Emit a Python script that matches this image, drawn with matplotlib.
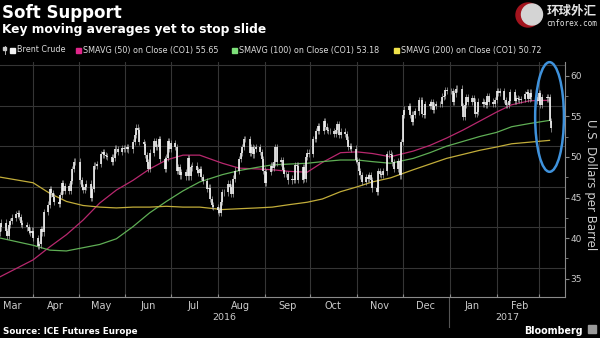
import pandas as pd
import matplotlib
matplotlib.use("Agg")
import matplotlib.pyplot as plt
from matplotlib.patches import Ellipse, Rectangle, Circle
from matplotlib.transforms import IdentityTransform

plt.rcParams["font.family"] = ["DejaVu Sans", "Noto Sans CJK SC"]

# Brent daily closes, one list per month (weekdays from 2016-03-10)
close_mar16 = [40.0, 40.6, 39.5, 39.0, 40.3, 40.8, 41.2, 41.6, 41.8, 41.3, 40.5, 40.3, 40.0, 39.6, 39.3, 39.6]
close_apr16 = [38.7, 37.7, 37.9, 39.8, 39.4, 41.9, 42.8, 44.7, 44.2, 43.8, 43.1, 42.9, 44.0, 45.5, 44.5,
               45.1, 44.5, 45.7, 47.2, 48.1, 48.1]
close_may16 = [45.8, 45.0, 44.6, 45.0, 45.4, 43.6, 44.7, 47.6, 47.6, 47.8, 49.0, 49.3, 48.9, 48.8, 48.7,
               48.1, 48.6, 49.7, 49.6, 49.3, 49.8, 49.7]
close_jun16 = [49.7, 49.9, 49.6, 50.5, 51.4, 52.3, 52.0, 50.5, 50.3, 48.9, 48.0, 47.2, 49.2, 50.6, 49.9,
               49.9, 50.9, 48.4, 47.2, 48.6, 50.6, 49.7]
close_jul16 = [50.4, 49.9, 47.0, 47.4, 46.4, 46.8, 46.3, 48.5, 46.3, 47.4, 47.6, 47.1, 46.7, 47.2, 46.2,
               45.7, 44.7, 44.9, 43.5, 42.7, 42.5]
close_aug16 = [42.1, 41.8, 43.1, 44.3, 44.3, 45.4, 45.0, 44.1, 46.0, 47.0, 48.4, 49.2, 49.9, 50.9, 50.9,
               49.2, 49.9, 49.0, 49.7, 49.9, 49.3, 48.4, 47.0]
close_sep16 = [45.5, 46.8, 47.6, 47.3, 48.0, 49.9, 48.0, 48.3, 47.1, 46.6, 46.6, 45.8, 46.0, 45.9, 47.7,
               47.6, 45.9, 47.4, 46.0, 48.7, 49.2, 49.1]
close_oct16 = [50.9, 50.9, 51.9, 52.5, 51.9, 53.1, 52.4, 52.0, 51.9, 51.9, 51.5, 52.0, 52.7, 51.4, 51.8,
               51.5, 50.8, 49.9, 50.0, 49.7, 48.3]
close_nov16 = [48.1, 46.9, 46.4, 45.6, 46.2, 46.0, 46.4, 45.8, 44.8, 44.4, 46.9, 46.6, 46.5, 46.9, 49.0,
               49.1, 48.9, 48.0, 47.2, 48.2, 46.4, 50.5]
close_dec16 = [53.9, 54.5, 54.9, 53.9, 53.0, 53.9, 54.3, 55.7, 55.7, 54.0, 53.9, 55.2, 55.0, 55.4, 54.5,
               55.0, 55.2, 55.2, 56.1, 56.2, 56.9, 56.8]
close_jan17 = [56.8, 55.5, 56.5, 57.1, 57.1, 54.9, 53.6, 55.1, 56.0, 55.5, 55.9, 55.5, 54.0, 54.2, 55.5,
               55.2, 55.4, 55.1, 56.2, 55.5, 55.2, 55.7]
close_feb17 = [56.8, 56.6, 56.8, 55.7, 55.1, 55.1, 55.6, 56.7, 55.6, 55.9, 55.8, 55.7, 55.8, 56.4, 56.7,
               55.8, 56.6, 56.0, 56.0, 55.6]
close_mar17 = [56.5, 55.1, 56.0, 55.9, 56.0, 53.1, 52.2]
first_open = 39.4

# moving averages at sample dates
sma_dates = ["2016-03-10", "2016-04-01", "2016-04-12", "2016-04-23", "2016-05-04", "2016-05-15",
             "2016-05-26", "2016-06-06", "2016-06-17", "2016-06-28", "2016-07-09", "2016-07-20",
             "2016-08-04", "2016-08-15", "2016-08-27", "2016-09-06", "2016-09-17", "2016-09-29",
             "2016-10-09", "2016-10-21", "2016-11-01", "2016-11-11", "2016-11-23", "2016-12-08",
             "2016-12-19", "2016-12-30", "2017-01-10", "2017-01-21", "2017-02-01", "2017-02-11",
             "2017-02-23", "2017-03-08"]
sma50 = [33.9, 36.0, 37.6, 39.1, 40.9, 43.0, 44.6, 45.8, 47.2, 48.3, 48.9, 48.9, 47.9, 47.3, 47.2, 47.1,
         46.9, 46.8, 48.0, 49.2, 49.3, 49.1, 48.7, 49.4, 50.1, 51.0, 52.0, 53.1, 54.2, 55.1, 55.6, 55.65]
sma100 = [38.7, 37.8, 37.2, 37.1, 37.5, 37.9, 38.6, 40.1, 41.8, 43.2, 44.5, 45.6, 46.5, 47.0, 47.4, 47.7,
          47.8, 47.9, 48.1, 48.3, 48.3, 48.1, 47.9, 48.5, 49.2, 50.0, 50.6, 51.2, 51.7, 52.4, 52.8, 53.18]
sma200 = [46.2, 45.5, 44.2, 43.2, 42.7, 42.5, 42.4, 42.5, 42.5, 42.6, 42.5, 42.5, 42.2, 42.3, 42.4, 42.5,
          42.8, 43.1, 43.5, 44.4, 45.0, 45.6, 46.1, 47.1, 47.8, 48.5, 49.0, 49.5, 49.9, 50.3, 50.5, 50.72]

months = ["Mar", "Apr", "May", "Jun", "Jul", "Aug", "Sep", "Oct", "Nov", "Dec", "Jan", "Feb"]
month_label_dates = ["2016-03-18", "2016-04-16", "2016-05-16", "2016-06-16", "2016-07-16", "2016-08-16",
                     "2016-09-16", "2016-10-16", "2016-11-16", "2016-12-16", "2017-01-16", "2017-02-16"]
yticks = [35, 40, 45, 50, 55, 60]

closes = (close_mar16 + close_apr16 + close_may16 + close_jun16 + close_jul16 + close_aug16 + close_sep16
          + close_oct16 + close_nov16 + close_dec16 + close_jan17 + close_feb17 + close_mar17)
opens = [first_open] + closes[:-1]
dates = pd.bdate_range("2016-03-10", periods=len(closes))
body_lo = [min(o, c) for o, c in zip(opens, closes)]
body_hi = [max(o, c) for o, c in zip(opens, closes)]
wick_pad = 0.4  # drawing only: thin wick past each body

W, H = 600, 338
fig = plt.figure(figsize=(6, 3.38), dpi=100, facecolor="black")


def fx(x):
    return x / W


def fy(y):
    return 1 - y / H


ax = fig.add_axes([0, fy(297), fx(565), (297 - 62) / H])
ax.set_facecolor("black")
ax.set_xlim(pd.Timestamp("2016-03-10 04:00"), pd.Timestamp("2017-03-18 05:00"))
ylo, yhi = 31.43, 60.37
ax.set_ylim(ylo, yhi)

# grid
for d in pd.date_range("2016-04-01", "2017-03-01", freq="MS"):
    ax.axvline(d, color="#353535", lw=0.8, zorder=0)
for v in yticks:
    ax.axhline(v, color="#353535", lw=0.8, zorder=0)

ax.vlines(dates, [b - wick_pad for b in body_lo], [b + wick_pad for b in body_hi],
          color="#a8a8a8", lw=0.5, zorder=3)
ax.vlines(dates, body_lo, body_hi, color="#f2f2f2", lw=1.2, zorder=4)

sd = pd.to_datetime(sma_dates)
ax.plot(sd, sma50, color="#b8286e", lw=0.9, zorder=2)
ax.plot(sd, sma100, color="#5fae55", lw=0.9, zorder=2)
ax.plot(sd, sma200, color="#c2ad3a", lw=0.9, zorder=2)

ell = Ellipse((pd.Timestamp("2017-03-08"), 53.6), width=19, height=13.5,
              fill=False, ec="#3f92dc", lw=1.8, zorder=5, clip_on=False)
ax.add_patch(ell)

for s in ["top", "left"]:
    ax.spines[s].set_visible(False)
ax.spines["bottom"].set_color("#8a8a8a")
ax.spines["right"].set_color("#8a8a8a")
ax.spines["bottom"].set_linewidth(0.8)
ax.spines["right"].set_linewidth(0.8)
ax.set_yticks([])

ax.set_xticks(pd.date_range("2016-04-01", "2017-03-01", freq="MS"))
ax.set_xticklabels([])
ax.tick_params(axis="x", direction="in", length=2, color="#8a8a8a")
ax.set_xticks(pd.to_datetime(month_label_dates), minor=True)
ax.set_xticklabels(months, minor=True)
ax.tick_params(axis="x", which="minor", length=0, labelsize=7, labelcolor="#cccccc", pad=3)

# right axis labels sit a little lower than the grid in the original
ax2 = ax.twinx()
ax2.set_ylim(ylo + 1.32, yhi + 1.32)
ax2.set_yticks(yticks)
ax2.set_yticks([37.5, 42.5, 47.5, 52.5, 57.5], minor=True)
ax2.tick_params(axis="y", colors="#8a8a8a", labelcolor="#cccccc", labelsize=6.5, length=3, pad=1)
ax2.tick_params(axis="y", which="minor", length=2, colors="#8a8a8a")
for s in ["top", "left", "bottom", "right"]:
    ax2.spines[s].set_visible(False)

fig.text(fx(591), fy(185), "U.S. Dollars per Barrel", rotation=-90, color="#cccccc",
         fontsize=8.5, ha="center", va="center")

# year labels under months
fig.text(fx(224), fy(318), "2016", color="#cccccc", fontsize=6.8, ha="center", va="center")
fig.text(fx(507), fy(318), "2017", color="#cccccc", fontsize=6.8, ha="center", va="center")
fig.add_artist(plt.Line2D([fx(449), fx(449)], [fy(298), fy(327)], color="#555555", lw=0.8))

# titles
fig.text(fx(2), fy(18.5), "Soft Support", color="white", fontsize=12, fontweight="bold", va="baseline")
fig.text(fx(2), fy(33.5), "Key moving averages yet to stop slide", color="white", fontsize=8.8,
         fontweight="bold", va="baseline")

# legend row
fig.add_artist(plt.Line2D([fx(4.5), fx(4.5)], [fy(46), fy(54)], color="#cccccc", lw=0.6))
fig.add_artist(Rectangle((fx(3.2), fy(50)), fx(2.6), 3 / H, color="#cccccc", transform=fig.transFigure))
legend_items = [
    (10, "#f2f2f2", "Brent Crude"),
    (76, "#e0268a", "SMAVG (50) on Close (CO1) 55.65"),
    (232, "#7ee07a", "SMAVG (100) on Close (CO1) 53.18"),
    (394, "#f0e24a", "SMAVG (200) on Close (CO1) 50.72"),
]
for x0, col, lab in legend_items:
    fig.add_artist(Rectangle((fx(x0), fy(52.5)), fx(5), 5 / H, color=col, transform=fig.transFigure))
    fig.text(fx(x0 + 7), fy(50), lab, color="#dddddd", fontsize=5.8, va="center")

# footer
fig.text(fx(3), fy(334), "Source: ICE Futures Europe", color="white", fontsize=6.3,
         fontweight="bold", va="baseline")
fig.text(fx(524), fy(334), "Bloomberg", color="white", fontsize=6.9, fontweight="bold", va="baseline")
fig.add_artist(Rectangle((fx(588), fy(333)), fx(8), 8 / H, color="#9a9a9a", transform=fig.transFigure))

# watermark
fig.add_artist(Circle((528, H - 15), 12, color="#a3141e", transform=IdentityTransform()))
fig.add_artist(Circle((532, H - 14.5), 10.5, color="#d4d4d4", transform=IdentityTransform()))
fig.text(fx(572), fy(11), "环球外汇", color="#e4e4e4", fontsize=9, fontweight="bold",
         ha="center", va="center", family=["Noto Sans CJK SC", "DejaVu Sans"])
fig.text(fx(572), fy(23), "cnforex.com", color="#e4e4e4", fontsize=5.5, ha="center", va="center",
         family="DejaVu Sans Mono")

fig.savefig("out.png", dpi=100, facecolor="black")
